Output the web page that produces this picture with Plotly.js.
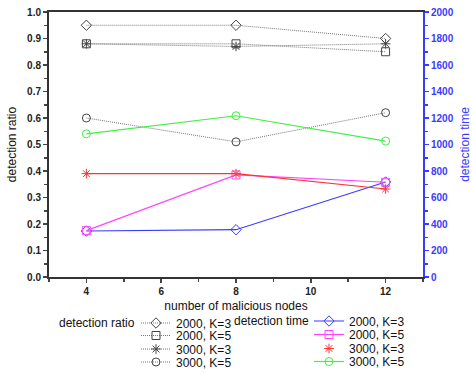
<!DOCTYPE html>
<html><head><meta charset="utf-8">
<script src="https://cdn.plot.ly/plotly-3.0.1.min.js"></script>
<style>body{margin:0}#c{width:472px;height:374px}</style>
</head><body><div id="c"></div>
<script>
const nodes = [4, 8, 12];
// detection ratio (left axis)
const ratio2000K3 = [0.95, 0.95, 0.90];
const ratio2000K5 = [0.88, 0.88, 0.85];
const ratio3000K3 = [0.88, 0.87, 0.88];
const ratio3000K5 = [0.60, 0.51, 0.62];
// detection time (right axis)
const time2000K3 = [347, 357, 717];
const time2000K5 = [350, 770, 715];
const time3000K3 = [780, 780, 664];
const time3000K5 = [1080, 1217, 1026];

const F = 'Liberation Sans, Arial, sans-serif';
const gray = '#444';
const dotLine = {color: '#777', width: 1, dash: '1px,1px'};
function rt(y, name, sym, lg) {
  return {x: nodes, y: y, name: name, mode: 'lines+markers', legend: lg,
    line: dotLine, marker: {symbol: sym, size: 8, color: gray, line: {color: gray, width: 1}}};
}
function tt(y, name, sym, col, mode, lg) {
  return {x: nodes, y: y, name: name, mode: mode, yaxis: 'y2', legend: lg,
    line: {color: col, width: 1.2}, marker: {symbol: sym, size: 8, color: col, line: {color: col, width: 1}}};
}
const traces = [
  rt(ratio2000K3, '2000, K=3', 'diamond-open', 'legend'),
  rt(ratio2000K5, '2000, K=5', 'square-open', 'legend2'),
  rt(ratio3000K3, '3000, K=3', 'asterisk-open', 'legend3'),
  rt(ratio3000K5, '3000, K=5', 'circle-open', 'legend4'),
  tt(time2000K3, '2000, K=3', 'diamond-open', '#3b3bff', 'lines+markers', 'legend5'),
  tt(time2000K5, '2000, K=5', 'square-open', '#ff44ff', 'lines+markers', 'legend6'),
  Object.assign(tt(time3000K3, '3000, K=3', 'asterisk-open', '#ff3333', 'lines', 'legend7'), {showlegend: false}),
  tt(time3000K3, '3000, K=3', 'asterisk-open', '#ff3333', 'markers', 'legend7'),
  tt(time3000K5, '3000, K=5', 'circle-open', '#44ee44', 'lines+markers', 'legend8')
];
const blue = '#3b3bff';
const rowsL = [323, 335.5, 349, 362];
const rowsR = [321, 334.5, 348.5, 361.5];
function lg(xpx, ypx) {
  return {x: (xpx - 49) / 374, y: (277 - ypx) / 265, xanchor: 'left', yanchor: 'middle',
    bgcolor: 'rgba(0,0,0,0)', font: {size: 12, family: F, color: '#111'}, itemwidth: 30, borderwidth: 0};
}
const layout = {
  width: 472, height: 374,
  margin: {l: 49, r: 49, t: 12, b: 97, autoexpand: false},
  paper_bgcolor: '#fff', plot_bgcolor: '#fff',
  font: {family: F, size: 12, color: '#111'},
  showlegend: true,
  xaxis: {range: [3, 13], tickvals: [4, 6, 8, 10, 12], ticks: 'outside', ticklen: 4, tickwidth: 1.5,
    minor: {dtick: 1, ticks: 'outside', ticklen: 3, tickwidth: 1.5, tick0: 3},
    showgrid: false, zeroline: false, showline: true, linecolor: '#333', linewidth: 2, mirror: true,
    tickfont: {size: 10, family: F, weight: 'bold', color: '#222'},
    title: {text: 'number of malicious nodes', font: {size: 12, family: F}, standoff: 6}},
  xaxis2: {overlaying: 'x', matches: 'x', side: 'top', range: [3, 13], tickvals: [4, 6, 8, 10, 12],
    ticks: 'inside', ticklen: 4, tickwidth: 1.5, tickcolor: '#333', showticklabels: false, showgrid: false, zeroline: false,
    minor: {dtick: 1, ticks: 'inside', ticklen: 3, tickwidth: 1.5, tick0: 3}, showline: false},
  yaxis: {range: [0, 1], dtick: 0.1, tickformat: '.1f', ticks: 'outside', ticklen: 4, tickwidth: 1.5,
    minor: {dtick: 0.05, ticks: 'outside', ticklen: 3, tickwidth: 1.5},
    showgrid: false, zeroline: false, showline: true, linecolor: '#333', linewidth: 2,
    tickfont: {size: 10, family: F, weight: 'bold', color: '#222'},
    title: {text: 'detection ratio', font: {size: 12, family: F}, standoff: 8}},
  yaxis2: {overlaying: 'y', side: 'right', range: [0, 2000], dtick: 200, ticks: 'outside', ticklen: 4, tickwidth: 1.5,
    minor: {dtick: 100, ticks: 'outside', ticklen: 3, tickwidth: 1.5},
    showgrid: false, zeroline: false, showline: true, linecolor: blue, linewidth: 2, tickcolor: blue,
    tickfont: {size: 10, family: F, weight: 'bold', color: blue},
    title: {text: 'detection time', font: {size: 12, family: F, color: blue}, standoff: 8}},
  legend: lg(136, rowsL[0]), legend2: lg(136, rowsL[1]), legend3: lg(136, rowsL[2]), legend4: lg(136, rowsL[3]),
  legend5: lg(309, rowsR[0]), legend6: lg(309, rowsR[1]), legend7: lg(309, rowsR[2]), legend8: lg(309, rowsR[3]),
  annotations: [
    {text: 'detection ratio', xref: 'paper', yref: 'paper', x: (137 - 49) / 374, y: (277 - 323) / 265,
      xanchor: 'right', yanchor: 'middle', showarrow: false, font: {size: 12, family: F, color: '#111'}},
    {text: 'detection time', xref: 'paper', yref: 'paper', x: (311 - 49) / 374, y: (277 - 321) / 265,
      xanchor: 'right', yanchor: 'middle', showarrow: false, font: {size: 12, family: F, color: '#111'}}
  ]
};
Plotly.newPlot('c', traces, layout, {staticPlot: true});
</script></body></html>
